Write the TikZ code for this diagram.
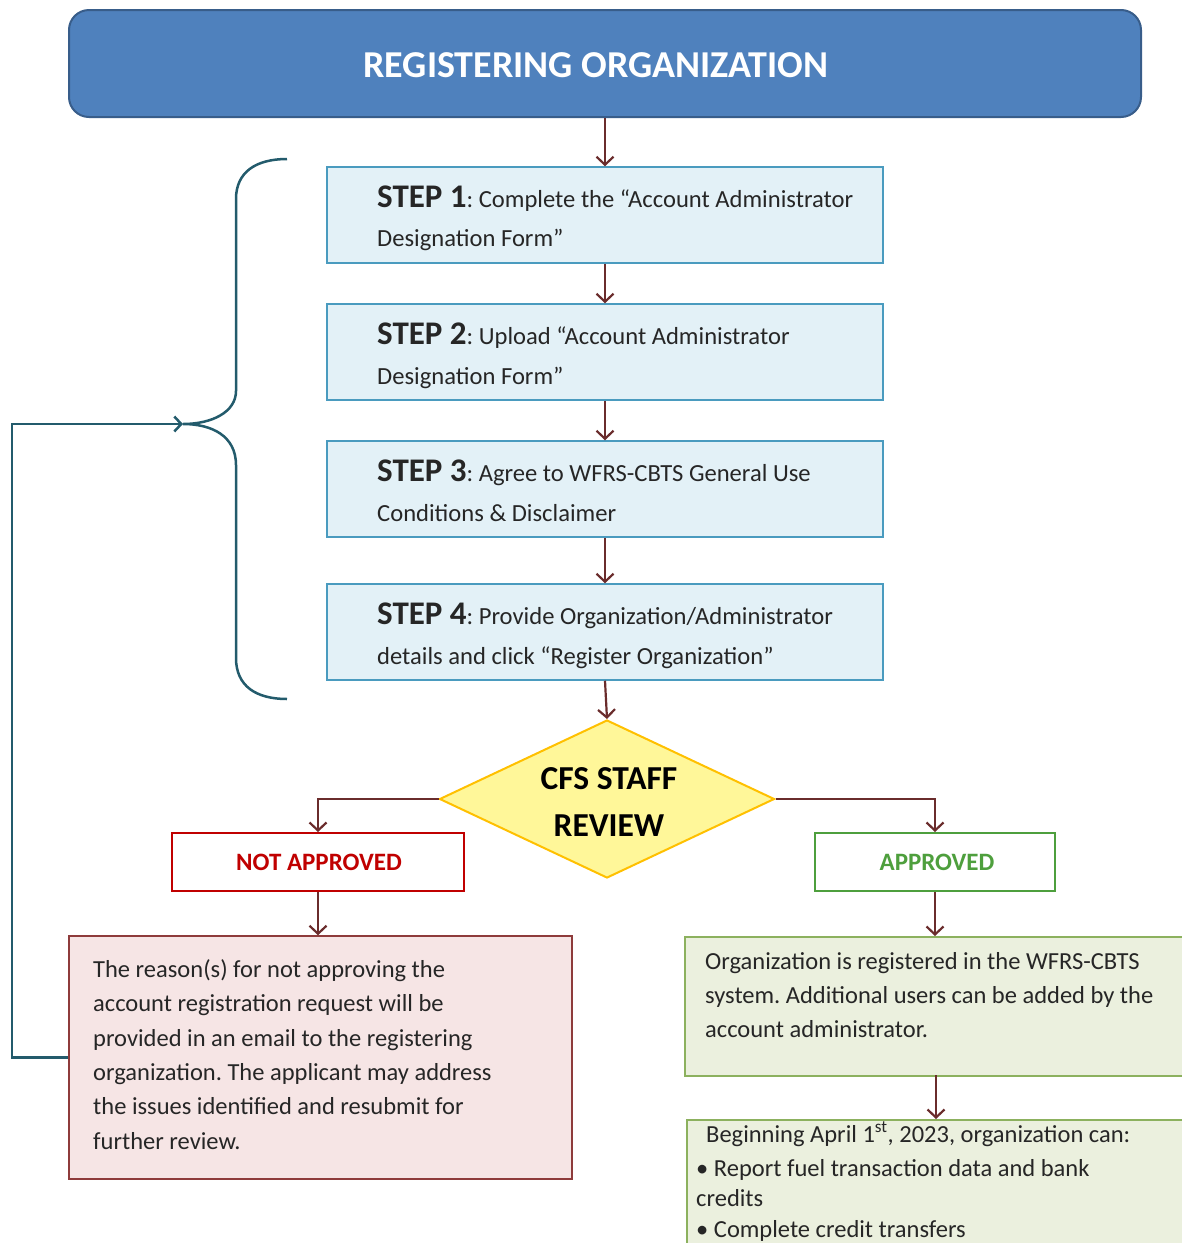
\documentclass[tikz,border=0pt]{standalone}
\usepackage{fontspec}
\setmainfont{Carlito}
\usetikzlibrary{arrows.meta,shapes.geometric,calc}
\definecolor{topfill}{HTML}{4F81BD}
\definecolor{topdraw}{HTML}{385D8A}
\definecolor{stepfill}{HTML}{E3F1F7}
\definecolor{stepdraw}{HTML}{4A9BBF}
\definecolor{arrowc}{HTML}{6A2C2C}
\definecolor{bracec}{HTML}{235B6C}
\definecolor{diafill}{HTML}{FFF799}
\definecolor{diadraw}{HTML}{FFC000}
\definecolor{nared}{HTML}{C00000}
\definecolor{apgreen}{HTML}{4E9F3D}
\definecolor{rsfill}{HTML}{F6E5E5}
\definecolor{rsdraw}{HTML}{8E3B3B}
\definecolor{grfill}{HTML}{EBF0DE}
\definecolor{grdraw}{HTML}{8CB15E}
\definecolor{txt}{HTML}{262626}
\frenchspacing
\tikzset{
  stepbox/.style={draw=stepdraw, fill=stepfill, line width=1.5pt, minimum width=556pt, minimum height=96pt, inner sep=0pt},
  arr/.style={draw=arrowc, line width=2.2pt, -{Straight Barb[length=8pt,width=17pt]}},
  fbarr/.style={draw=bracec, line width=2.5pt, -{Straight Barb[length=7pt,width=15pt]}},
  bracestyle/.style={draw=bracec, line width=2.5pt},
  steplbl/.style={anchor=base west, inner sep=0pt, text=txt, font=\fontsize{24.6}{28}\selectfont},
  bodytxt/.style={anchor=base west, inner sep=0pt, text=txt, font=\fontsize{24.5}{28}\selectfont},
}
\newcommand{\stp}[1]{{\fontsize{33}{36}\selectfont\bfseries STEP #1}}
\begin{document}
\begin{tikzpicture}[x=1pt,y=-1pt]
\useasboundingbox (0,0) rectangle (1182,1243);
\fill[white] (0,0) rectangle (1182,1243);
\clip (0,0) rectangle (1182,1243);

% top box
\node[draw=topdraw, fill=topfill, line width=2pt, rounded corners=20pt, minimum width=1072pt, minimum height=107pt, inner sep=0pt] (top) at (605,63.5) {};
\node[anchor=base, inner sep=0pt, text=white, font=\fontsize{38}{42}\selectfont\bfseries] (toptxt) at (596,77) {REGISTERING ORGANIZATION};

% steps
\node[stepbox] (s1) at (605,215) {};
\node[stepbox] (s2) at (605,352) {};
\node[stepbox] (s3) at (605,489) {};
\node[stepbox] (s4) at (605,632) {};

\node[steplbl] (t1a) at (377,207) {\stp{1}: Complete the “Account Administrator};
\node[steplbl] (t1b) at (377,246) {Designation Form”};
\node[steplbl] (t2a) at (377,344) {\stp{2}: Upload “Account Administrator};
\node[steplbl] (t2b) at (377,384) {Designation Form”};
\node[steplbl] (t3a) at (377,481) {\stp{3}: Agree to WFRS-CBTS General Use};
\node[steplbl] (t3b) at (377,521) {Conditions \& Disclaimer};
\node[steplbl] (t4a) at (377,624) {\stp{4}: Provide Organization/Administrator};
\node[steplbl] (t4b) at (377,664) {details and click “Register Organization”};

% diamond
\node[diamond, draw=diadraw, fill=diafill, line width=2pt, aspect=2.12, minimum width=335pt, minimum height=158pt, inner sep=0pt] (dia) at (607,799) {};
\node[anchor=base, inner sep=0pt, text=black, font=\fontsize{33.5}{36}\selectfont\bfseries] (diat1) at (609,789) {CFS STAFF};
\node[anchor=base, inner sep=0pt, text=black, font=\fontsize{33.5}{36}\selectfont\bfseries] (diat2) at (609,836) {REVIEW};

% decision boxes
\node[draw=nared, line width=2pt, fill=white, minimum width=292pt, minimum height=58pt, inner sep=0pt] (na) at (318,862) {};
\node[anchor=base, inner sep=0pt, text=nared, font=\fontsize{25}{28}\selectfont\bfseries] (natxt) at (319,870.5) {NOT APPROVED};
\node[draw=apgreen, line width=2pt, fill=white, minimum width=240pt, minimum height=58pt, inner sep=0pt] (ap) at (935,862) {};
\node[anchor=base, inner sep=0pt, text=apgreen, font=\fontsize{25}{28}\selectfont\bfseries] (aptxt) at (937,870.5) {APPROVED};

% reason box
\node[draw=rsdraw, fill=rsfill, line width=1.5pt, minimum width=503pt, minimum height=243pt, inner sep=0pt] (rs) at (320.5,1057.5) {};
\node[bodytxt] (r1) at (93,977) {The reason(s) for not approving the};
\node[bodytxt] (r2) at (93,1011) {account registration request will be};
\node[bodytxt] (r3) at (93,1046) {provided in an email to the registering};
\node[bodytxt] (r4) at (93,1080) {organization. The applicant may address};
\node[bodytxt] (r5) at (93,1114) {the issues identified and resubmit for};
\node[bodytxt] (r6) at (93,1149) {further review.};

% green boxes
\node[draw=grdraw, fill=grfill, line width=1.5pt, minimum width=520pt, minimum height=139pt, inner sep=0pt, anchor=north west] (gr) at (684,936) {};
\node[bodytxt] (g1) at (705,969) {Organization is registered in the WFRS-CBTS};
\node[bodytxt] (g2) at (705,1003) {system. Additional users can be added by the};
\node[bodytxt] (g3) at (705,1037) {account administrator.};

\node[draw=grdraw, fill=grfill, line width=1.5pt, minimum width=520pt, minimum height=150pt, inner sep=0pt, anchor=north west] (bt) at (686,1119) {};
\node[bodytxt] (b1) at (706,1142) {Beginning April 1\textsuperscript{st}, 2023, organization can:};
\node[bodytxt] (b2) at (696,1176) {\textbullet\ Report fuel transaction data and bank};
\node[bodytxt] (b3) at (696,1206) {credits};
\node[bodytxt] (b4) at (696,1237) {\textbullet\ Complete credit transfers};

% flow arrows
\draw[arr] (top.south) -- (s1.north);
\draw[arr] (s1.south) -- (s2.north);
\draw[arr] (s2.south) -- (s3.north);
\draw[arr] (s3.south) -- (s4.north);
\draw[arr] (s4.south) -- (dia.north);
\draw[arr] (dia.west) -| (na.north);
\draw[arr] (dia.east) -| (ap.north);
\draw[arr] (na.south) -- (na.south |- rs.north);
\draw[arr] (ap.south) -- (ap.south |- gr.north);
\coordinate (grb) at (936,1075);
\draw[arr] (grb) -- (grb |- bt.north);

% brace and feedback
\coordinate (cusp) at (183,424);
\coordinate (fbc) at (12,1057.5);
\draw[bracestyle] (287,159) .. controls (256,159) and (236,172) .. (236,199) -- (236,391)
  .. controls (236,412) and (212,424) .. (cusp)
  .. controls (212,424) and (236,436) .. (236,465) -- (236,658)
  .. controls (236,686) and (256,699) .. (287,699);
\draw[fbarr] (rs.west) -- (fbc) |- (cusp);
\end{tikzpicture}
\end{document}
